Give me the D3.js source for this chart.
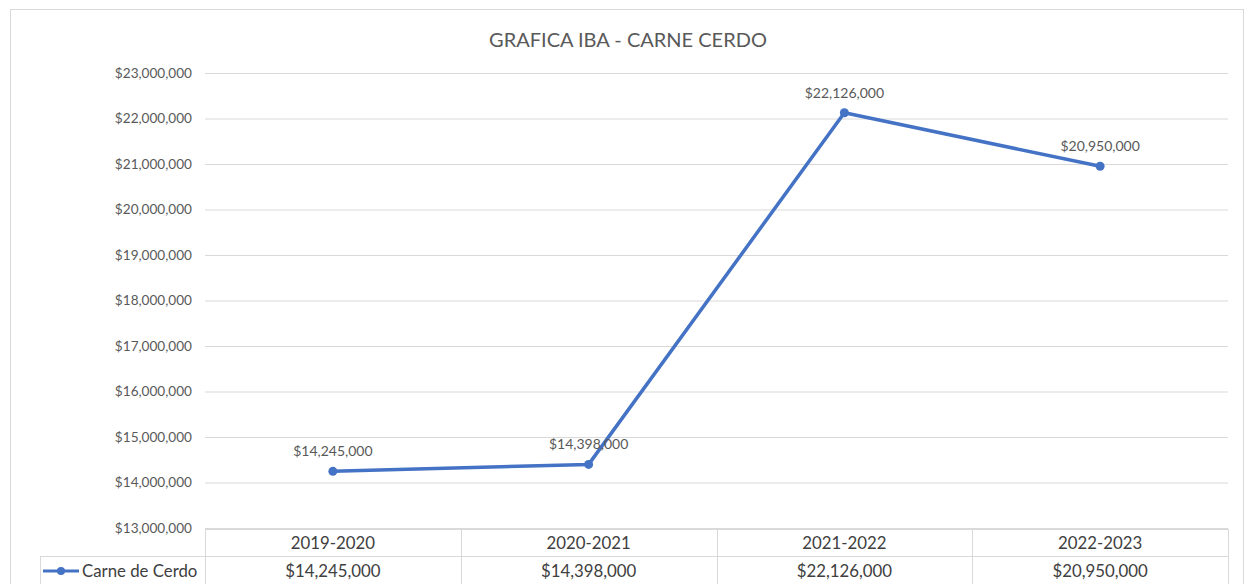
<!DOCTYPE html>
<html>
<head>
<meta charset="utf-8">
<script src="https://cdn.jsdelivr.net/npm/d3@7"></script>
<style>
    body { margin: 0; background: #fff; }
    svg text { font-family: Lato, "Open Sans", sans-serif; }
</style>
</head>
<body>
<svg id="chart" width="1253" height="584"></svg>
<script>
// ---------------------------------------------------------------
//    DATA
// ---------------------------------------------------------------
const title = "GRAFICA IBA - CARNE CERDO";
const seriesName = "Carne de Cerdo";
const periods = ["2019-2020", "2020-2021", "2021-2022", "2022-2023"];
const values = [14245000, 14398000, 22126000, 20950000];
const yTicks = [13000000, 14000000, 15000000, 16000000, 17000000, 18000000,
    19000000, 20000000, 21000000, 22000000, 23000000];

const lineColor = "#4472C4";
const gridColor = "#d9d9d9";
const textColor = "#595959";

const money = d3.format("$,.0f");

const svg = d3.select("#chart");

// outer chart border
svg.append("rect")
    .attr("x", 10.5).attr("y", 9.5)
    .attr("width", 1233).attr("height", 600)
    .attr("fill", "#fff")
    .attr("stroke", gridColor);

// plot area
const plot = { left: 205, right: 1228, top: 73, bottom: 528 };

const x = d3.scaleBand()
    .domain(periods)
    .range([plot.left, plot.right]);

const y = d3.scaleLinear()
    .domain([13000000, 23000000])
    .range([plot.bottom, plot.top]);

// title
svg.append("text")
    .attr("x", 628).attr("y", 47)
    .attr("text-anchor", "middle")
    .attr("font-size", 20)
    .attr("fill", textColor)
    .text(title);

// gridlines + y labels via axis
const yAxis = d3.axisLeft(y)
    .tickValues(yTicks)
    .tickSize(-(plot.right - plot.left))
    .tickPadding(13)
    .tickFormat(money);

svg.append("g")
    .attr("transform", `translate(${plot.left},0)`)
    .call(yAxis)
    .call(g => g.select(".domain").remove())
    .call(g => g.selectAll(".tick line").attr("stroke", gridColor))
    .call(g => g.selectAll(".tick text")
        .attr("fill", textColor)
        .attr("font-size", 13.6));

// data table under the plot
const table = svg.append("g");
const rowH = 27;
const tableTop = plot.bottom + 1;

// horizontal lines of table
table.append("line")
    .attr("x1", plot.left).attr("x2", plot.right)
    .attr("y1", tableTop + 0.5).attr("y2", tableTop + 0.5)
    .attr("stroke", gridColor);
table.append("line")
    .attr("x1", 40).attr("x2", plot.right)
    .attr("y1", tableTop + rowH + 0.5).attr("y2", tableTop + rowH + 0.5)
    .attr("stroke", gridColor);
table.append("line")
    .attr("x1", 40.5).attr("x2", 40.5)
    .attr("y1", tableTop + rowH).attr("y2", 600)
    .attr("stroke", gridColor);

// vertical separators at band edges
const edges = periods.map(p => x(p)).concat([plot.right]);
table.selectAll("line.vsep")
    .data(edges)
    .join("line")
    .attr("class", "vsep")
    .attr("x1", d => Math.round(d) + 0.5).attr("x2", d => Math.round(d) + 0.5)
    .attr("y1", tableTop).attr("y2", 600)
    .attr("stroke", gridColor);

table.selectAll("text.period")
    .data(periods)
    .join("text")
    .attr("class", "period")
    .attr("x", d => x(d) + x.bandwidth() / 2)
    .attr("y", tableTop + 20)
    .attr("text-anchor", "middle")
    .attr("font-size", 16.8)
    .attr("fill", "#404040")
    .text(d => d);

table.selectAll("text.value")
    .data(values)
    .join("text")
    .attr("class", "value")
    .attr("x", (d, i) => x(periods[i]) + x.bandwidth() / 2)
    .attr("y", tableTop + rowH + 21)
    .attr("text-anchor", "middle")
    .attr("font-size", 16.8)
    .attr("fill", "#404040")
    .text(d => money(d));

// legend key inside the table
const keyY = tableTop + rowH + 15;
table.append("line")
    .attr("x1", 43).attr("x2", 79)
    .attr("y1", keyY).attr("y2", keyY)
    .attr("stroke", lineColor).attr("stroke-width", 3);
table.append("circle")
    .attr("cx", 61).attr("cy", keyY).attr("r", 4)
    .attr("fill", lineColor);
table.append("text")
    .attr("x", 82).attr("y", tableTop + rowH + 21)
    .attr("font-size", 16.8)
    .attr("fill", "#404040")
    .text(seriesName);

// the line
const cx = (d, i) => x(periods[i]) + x.bandwidth() / 2;

svg.append("path")
    .datum(values)
    .attr("fill", "none")
    .attr("stroke", lineColor)
    .attr("stroke-width", 3.5)
    .attr("stroke-linejoin", "round")
    .attr("d", d3.line().x(cx).y(d => y(d)));

svg.selectAll("circle.pt")
    .data(values)
    .join("circle")
    .attr("class", "pt")
    .attr("cx", cx)
    .attr("cy", d => y(d))
    .attr("r", 4.5)
    .attr("fill", lineColor);

// data labels above points
svg.selectAll("text.lbl")
    .data(values)
    .join("text")
    .attr("class", "lbl")
    .attr("x", cx)
    .attr("y", d => y(d) - 15)
    .attr("text-anchor", "middle")
    .attr("font-size", 14)
    .attr("fill", textColor)
    .text(d => money(d));
</script>
</body>
</html>
